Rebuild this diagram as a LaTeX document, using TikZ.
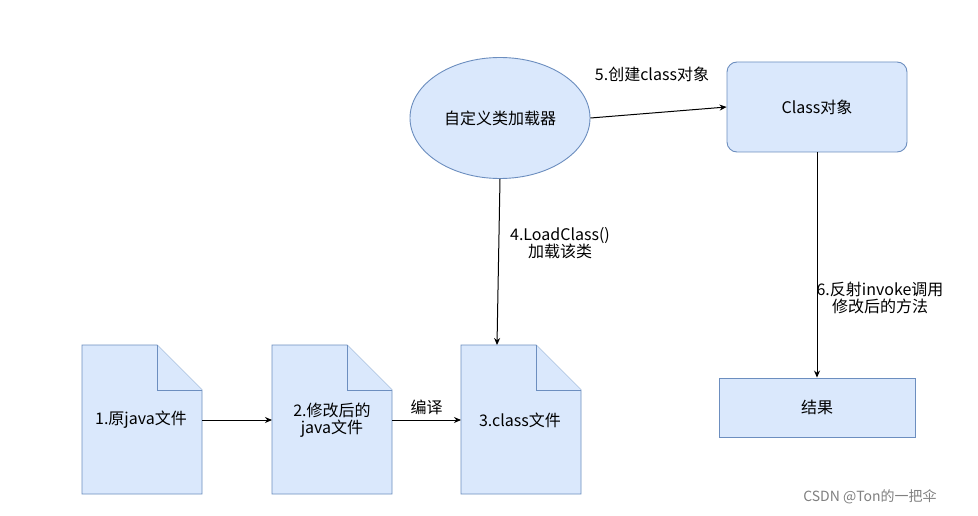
\documentclass[tikz,border=0pt]{standalone}
\usepackage{fontspec}
\setmainfont{Noto Sans CJK SC}
\usetikzlibrary{shapes.geometric,arrows.meta}
\definecolor{bfill}{HTML}{DAE8FC}
\definecolor{bline}{HTML}{6C8EBF}
\begin{document}
\begin{tikzpicture}[x=1pt,y=-1pt,
  box/.style={fill=bfill,draw=bline,line width=0.9pt},
  arr/.style={-{Stealth[length=7pt,width=6pt]},line width=1pt},
  lbl/.style={font=\fontsize{16}{17}\selectfont,align=center,inner sep=1pt},
  doc/.pic={\draw[box] (0,0) -- (75,0) -- (120,45) -- (120,149) -- (0,149) -- cycle;
            \draw[box] (75,0) -- (75,45) -- (120,45);}]
\useasboundingbox (0,0) rectangle (978,516);
\fill[white] (0,0) rectangle (978,516);
\node[ellipse,box,minimum width=180pt,minimum height=121pt,lbl] (cl) at (500,118) {自定义类加载器};
\node[box,rounded corners=10pt,minimum width=180pt,minimum height=90pt,lbl] (co) at (817,107) {Class对象};
\node[box,minimum width=196pt,minimum height=59pt,lbl] (res) at (817,407.5) {结果};
\pic at (82,345) {doc};
\pic at (272,345) {doc};
\pic at (461,345) {doc};
\node[lbl] (d1) at (141,420) {1.原java文件};
\node[lbl] (d2) at (332,420) {2.修改后的\\java文件};
\node[lbl] (d3) at (520,420) {3.class文件};
\coordinate (d1r) at (202,420); \coordinate (d2l) at (272,420);
\coordinate (d2r) at (392,420); \coordinate (d3l) at (461,420);
\coordinate (d3t) at (497,345);
\draw[arr] (d1r) -- (d2l);
\draw[arr] (d2r) -- node[lbl,above=4pt] {编译} (d3l);
\draw[arr] (cl.south) -- (d3t);
\node[lbl] at (560,243) {4.LoadClass()\\加载该类};
\draw[arr] (cl.east) -- (co.west);
\node[lbl] at (652,74) {5.创建class对象};
\draw[arr] (co.south) -- (res.north);
\node[lbl] at (880,298) {6.反射invoke调用\\修改后的方法};
\node[font=\fontsize{14}{15}\selectfont,text=gray] at (870,497) {CSDN @Ton的一把伞};
\end{tikzpicture}
\end{document}
